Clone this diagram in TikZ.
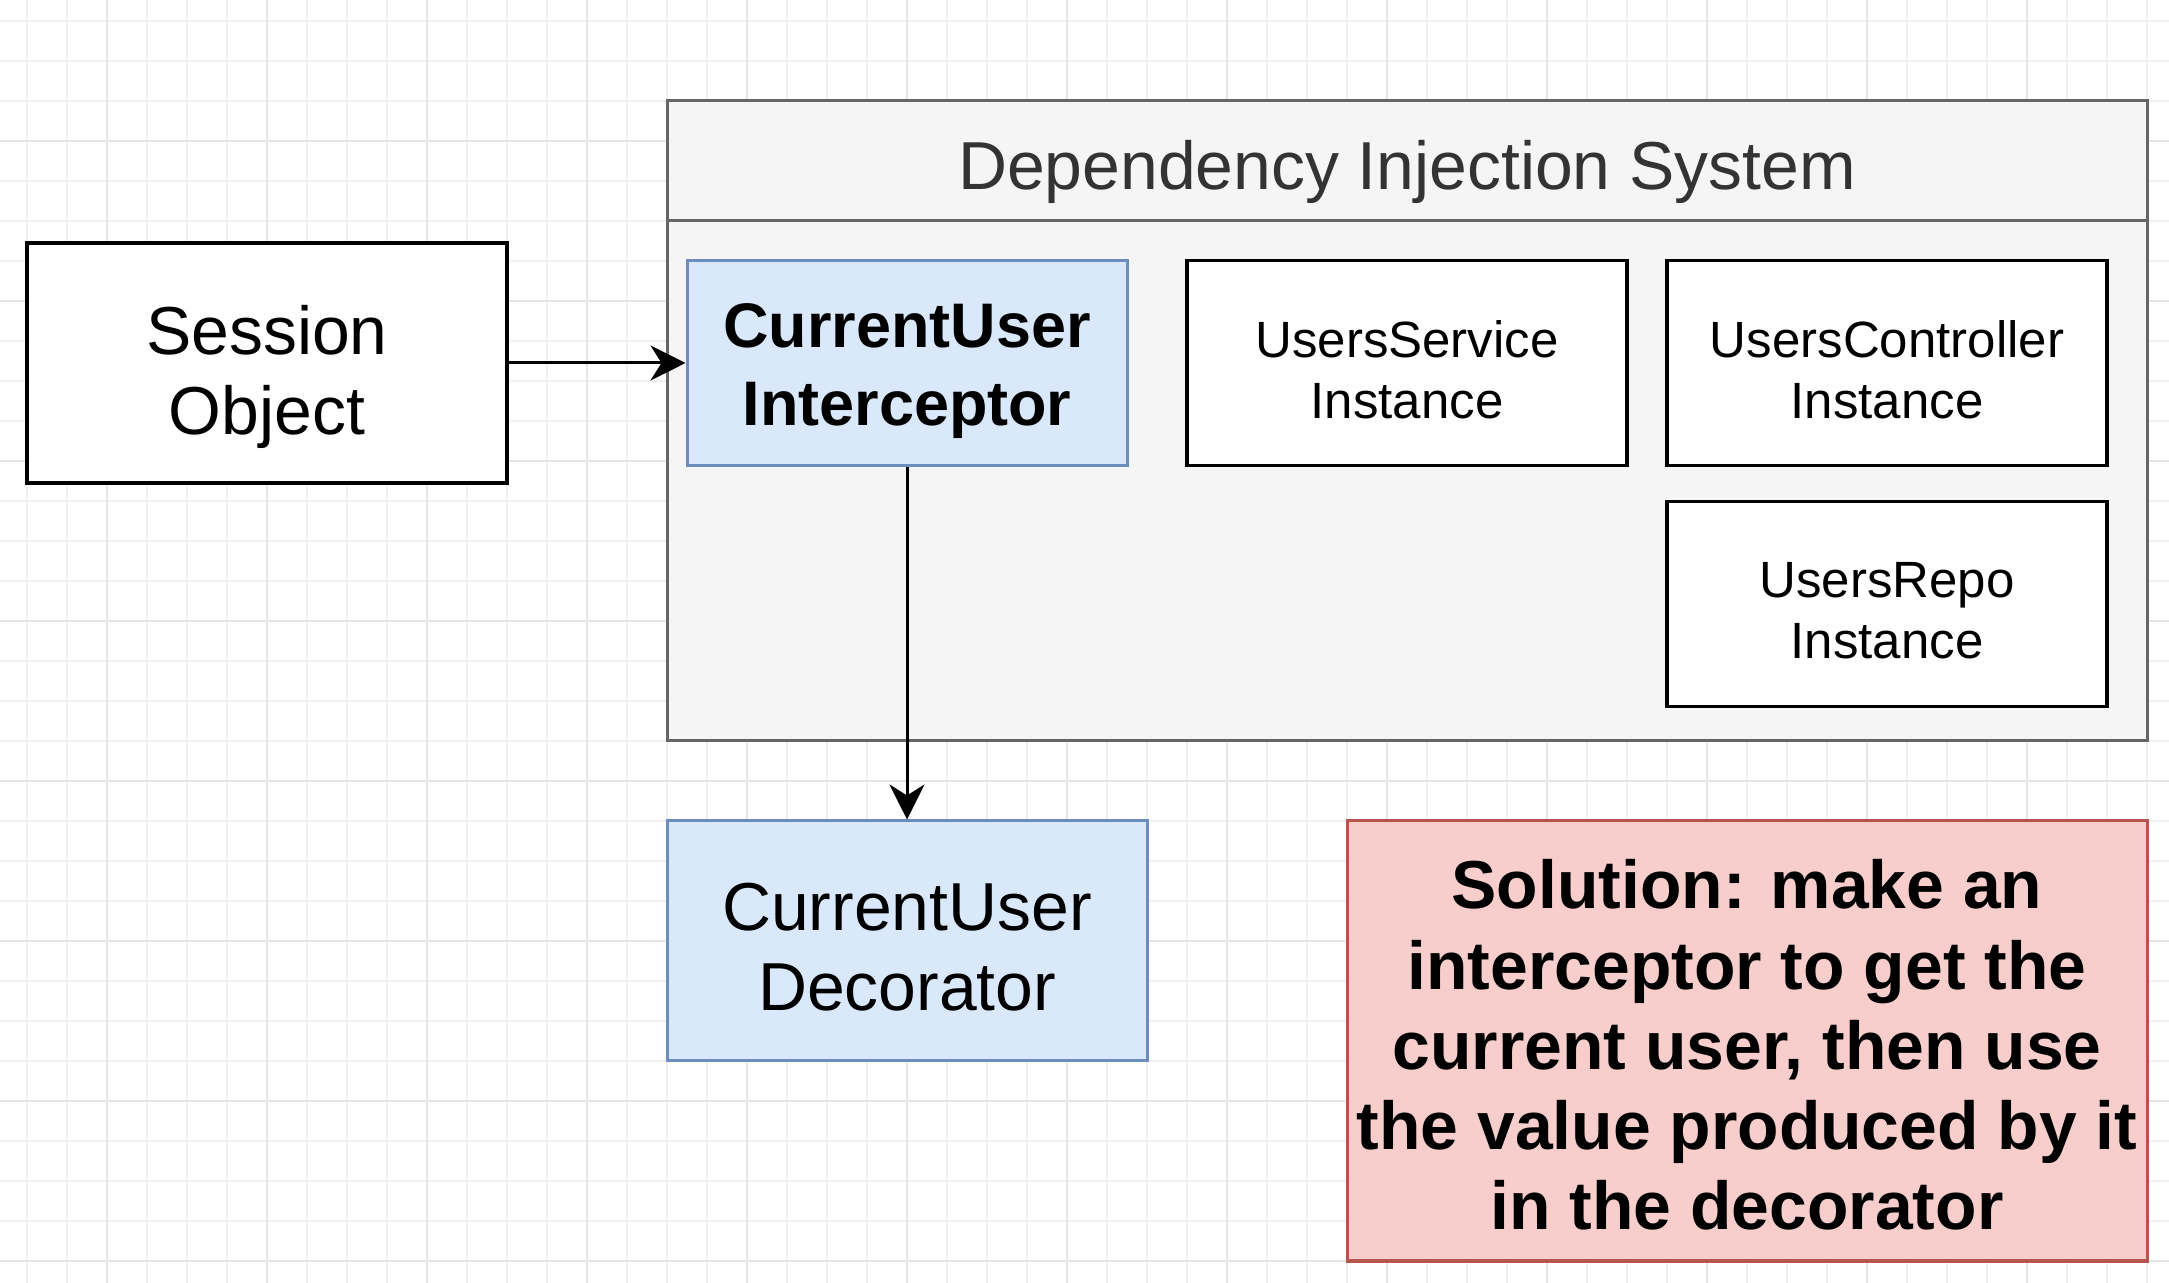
\documentclass[tikz,border=0pt]{standalone}
\usepackage{fontspec}
\setmainfont{Liberation Sans}
\usetikzlibrary{arrows.meta}

\definecolor{gridminor}{HTML}{F1F1F1}
\definecolor{gridmajor}{HTML}{E6E6E6}
\definecolor{panelfill}{HTML}{F5F5F5}
\definecolor{panelline}{HTML}{666666}
\definecolor{paneltext}{HTML}{333333}
\definecolor{bluefill}{HTML}{DAE8FC}
\definecolor{blueline}{HTML}{6C8EBF}
\definecolor{redfill}{HTML}{F8CECC}
\definecolor{redline}{HTML}{B85450}

\tikzset{
  card/.style={draw, line width=0.035cm, inner sep=0pt},
  boxsize/.style 2 args={minimum width=#1*0.01cm, minimum height=#2*0.01cm},
  plainbox/.style={card, fill=white, draw=black},
  bluebox/.style={card, fill=bluefill, draw=blueline, line width=0.03cm},
  redbox/.style={card, fill=redfill, draw=redline, line width=0.03cm},
  label text/.style={align=center, inner sep=0pt},
  bigtext/.style={label text, font=\fontsize{19.3}{22.8}\selectfont},
  smalltext/.style={label text, font=\fontsize{14.5}{17.4}\selectfont},
  boldtext/.style={label text, font=\bfseries\fontsize{17.9}{22.2}\selectfont},
  boldbig/.style={label text, font=\bfseries\fontsize{19.3}{22.8}\selectfont},
  flow/.style={line width=0.03cm, -{Stealth[length=0.35cm, width=0.35cm, inset=0.11cm]}}
}

\begin{document}
\begin{tikzpicture}[x=0.01cm, y=-0.01cm]
  % canvas and background grid
  \useasboundingbox (0,0) rectangle (2169,1283);
  \fill[white] (0,0) rectangle (2169,1283);
  \foreach \x in {27,67,...,2169}
    \draw[gridminor, line width=0.015cm] (\x,0) -- (\x,1283);
  \foreach \y in {21,61,...,1283}
    \draw[gridminor, line width=0.015cm] (0,\y) -- (2169,\y);
  \foreach \x in {107,267,...,2169}
    \draw[gridmajor, line width=0.02cm] (\x,0) -- (\x,1283);
  \foreach \y in {141,301,...,1283}
    \draw[gridmajor, line width=0.02cm] (0,\y) -- (2169,\y);

  % dependency injection container with its header
  \draw[fill=panelfill, draw=panelline, line width=0.03cm] (667,101) rectangle (2147,741);
  \draw[panelline, line width=0.03cm] (667,221) -- (2147,221);
  \node[text=paneltext, inner sep=0pt, font=\fontsize{19.3}{23}\selectfont] (title) at (1407,172) {Dependency Injection System};

  % boxes
  \node[plainbox, boxsize={480}{240}] (session) at (267,363) {};
  \node[bluebox, boxsize={440}{205}] (icpt) at (907,363) {};
  \node[plainbox, boxsize={440}{205}] (service) at (1407,363) {};
  \node[plainbox, boxsize={440}{205}] (ctrl) at (1887,363) {};
  \node[plainbox, boxsize={440}{205}] (repo) at (1887,604) {};
  \node[bluebox, boxsize={480}{240}] (deco) at (907,941) {};
  \node[redbox, boxsize={800}{440}] (note) at (1747,1041) {};

  % box texts
  \node[bigtext] (sessiontext) at ([yshift=-0.14cm]session.center) {Session\\Object};
  \node[boldtext] (icpttext) at ([yshift=-0.08cm]icpt.center) {CurrentUser\\Interceptor};
  \node[smalltext] (servicetext) at ([yshift=-0.07cm]service.center) {UsersService\\Instance};
  \node[smalltext] (ctrltext) at ([yshift=-0.07cm]ctrl.center) {UsersController\\Instance};
  \node[smalltext] (repotext) at ([yshift=-0.07cm]repo.center) {UsersRepo\\Instance};
  \node[bigtext] (decotext) at ([yshift=-0.06cm]deco.center) {CurrentUser\\Decorator};
  \node[boldbig] (notetext) at ([yshift=-0.04cm]note.center)
    {Solution: make an\\interceptor to get the\\current user, then use\\the value produced by it\\in the decorator};

  % connectors
  \draw[flow] (session.east) -- (icpt.west);
  \draw[flow] (icpt.south) -- (deco.north);
\end{tikzpicture}
\end{document}
